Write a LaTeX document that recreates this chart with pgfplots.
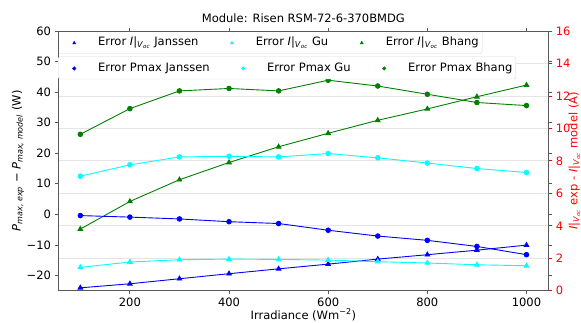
\documentclass[border=0pt]{standalone}
\usepackage{fontspec}
\setmainfont{DejaVu Sans}
\usepackage{pgfplots}
\pgfplotsset{compat=1.18}
\definecolor{mgreen}{rgb}{0,0.5,0}
\definecolor{mcyan}{rgb}{0,1,1}
\definecolor{mblue}{rgb}{0,0,1}
\definecolor{mred}{rgb}{1,0,0}
\definecolor{spine}{gray}{0.35}
\definecolor{gridc}{gray}{0.9}
\newcommand{\Ivoc}{\textit{I}|\textsubscript{\textit{V}\textsubscript{\textit{oc}}}}
\pgfplotsset{
  lm/.style={mark size=1.8pt,
    legend image code/.code={\path[draw=none,fill=none] (0pt,0pt) -- (17.5pt,0pt); \draw[##1, only marks] plot coordinates {(13.5pt,3pt)};}},
  base/.style={
    scale only axis, width=490.7pt, height=259.7pt,
    xmin=55, xmax=1045,
    axis line style={spine, line width=0.8pt},
    tick style={spine, line width=0.8pt},
    tick align=outside,
    major tick length=3.5pt,
    /pgf/number format/assume math mode=true,
    /pgf/number format/1000 sep={},
    legend style={draw=black!15, rounded corners=2pt, fill=white, inner xsep=2.5pt, inner ysep=4pt,
      anchor=north west, nodes={inner xsep=1pt, inner ysep=2pt, anchor=base west},
      column sep=19pt,
      font=\fontsize{11.5}{13.5}\selectfont},
    legend columns=3,
  },
  ln/.style={line width=0.9pt, mark options={solid}},
}
\begin{document}
\begin{tikzpicture}[font=\fontsize{11.5}{13.5}\selectfont]
\useasboundingbox (-58pt,-31.3pt) rectangle (522.9pt,290.7pt);
% right axis: currents
\begin{axis}[base,
  axis x line=none,
  axis y line*=right,
  ymin=0, ymax=16, ytick={0,2,...,16},
  ymajorgrids, grid style={gridc, line width=0.8pt},
  yticklabel style={mred},
  y tick style={mred},
  ylabel={\Ivoc\ exp - \Ivoc\ model (A)},
  ylabel style={mred, at={(axis description cs:1,0.5)}, anchor=center, yshift=-25.5pt},
  legend style={at={(0,1)}},
]
\addlegendimage{lm, mark=triangle*, mblue}
\addlegendentry{Error \Ivoc\ Janssen}
\addlegendimage{lm, mark=triangle*, mcyan}
\addlegendentry{Error \Ivoc\ Gu}
\addlegendimage{lm, mark=triangle*, mgreen}
\addlegendentry{Error \Ivoc\ Bhang}
\addplot[ln, mblue, mark=triangle*, mark size=2.6pt, forget plot] coordinates {
(100,0.18) (200,0.43) (300,0.74) (400,1.05) (500,1.35) (600,1.64) (700,1.95) (800,2.22) (900,2.50) (1000,2.81)};
\addplot[ln, mcyan, mark=triangle*, mark size=2.6pt, forget plot] coordinates {
(100,1.44) (200,1.77) (300,1.91) (400,1.95) (500,1.93) (600,1.89) (700,1.79) (800,1.71) (900,1.60) (1000,1.54)};
\addplot[ln, mgreen, mark=triangle*, mark size=2.6pt, forget plot] coordinates {
(100,3.80) (200,5.50) (300,6.84) (400,7.90) (500,8.87) (600,9.70) (700,10.50) (800,11.20) (900,11.95) (1000,12.67)};
\end{axis}
% left axis: Pmax
\begin{axis}[base,
  ymin=-25, ymax=60, ytick={-20,-10,...,60},
  yticklabels={−20,−10,0,10,20,30,40,50,60},
  xtick={200,400,...,1000},
  xlabel={Irradiance (Wm\textsuperscript{−2})},
  xlabel style={at={(axis description cs:0.5,0)}, anchor=base, yshift=-28.3pt},
  ylabel={\textit{P}\textsubscript{\textit{max, exp}} − \textit{P}\textsubscript{\textit{max, model}} (W)},
  ylabel style={at={(axis description cs:0,0.5)}, anchor=center, yshift=40pt},
  title={Module: Risen RSM-72-6-370BMDG},
  title style={at={(axis description cs:0.5,1)}, anchor=base, yshift=2.7pt},
  legend style={at={(0,0.9018)}},
]
\addlegendimage{lm, mark=*, mblue}
\addlegendentry{Error Pmax Janssen}
\addlegendimage{lm, mark=*, mcyan}
\addlegendentry{Error Pmax Gu}
\addlegendimage{lm, mark=*, mgreen}
\addlegendentry{Error Pmax Bhang}
\addplot[ln, mblue, mark=*, mark size=2.3pt, forget plot] coordinates {
(100,-0.4) (200,-0.9) (300,-1.5) (400,-2.4) (500,-3.0) (600,-5.2) (700,-7.1) (800,-8.5) (900,-10.5) (1000,-13.2)};
\addplot[ln, mcyan, mark=*, mark size=2.3pt, forget plot] coordinates {
(100,12.5) (200,16.2) (300,18.8) (400,19.0) (500,18.8) (600,19.9) (700,18.5) (800,16.8) (900,15.0) (1000,13.7)};
\addplot[ln, mgreen, mark=*, mark size=2.3pt, forget plot] coordinates {
(100,26.2) (200,34.6) (300,40.4) (400,41.2) (500,40.4) (600,43.9) (700,42.0) (800,39.3) (900,36.6) (1000,35.6)};
\end{axis}
\end{tikzpicture}
\end{document}
